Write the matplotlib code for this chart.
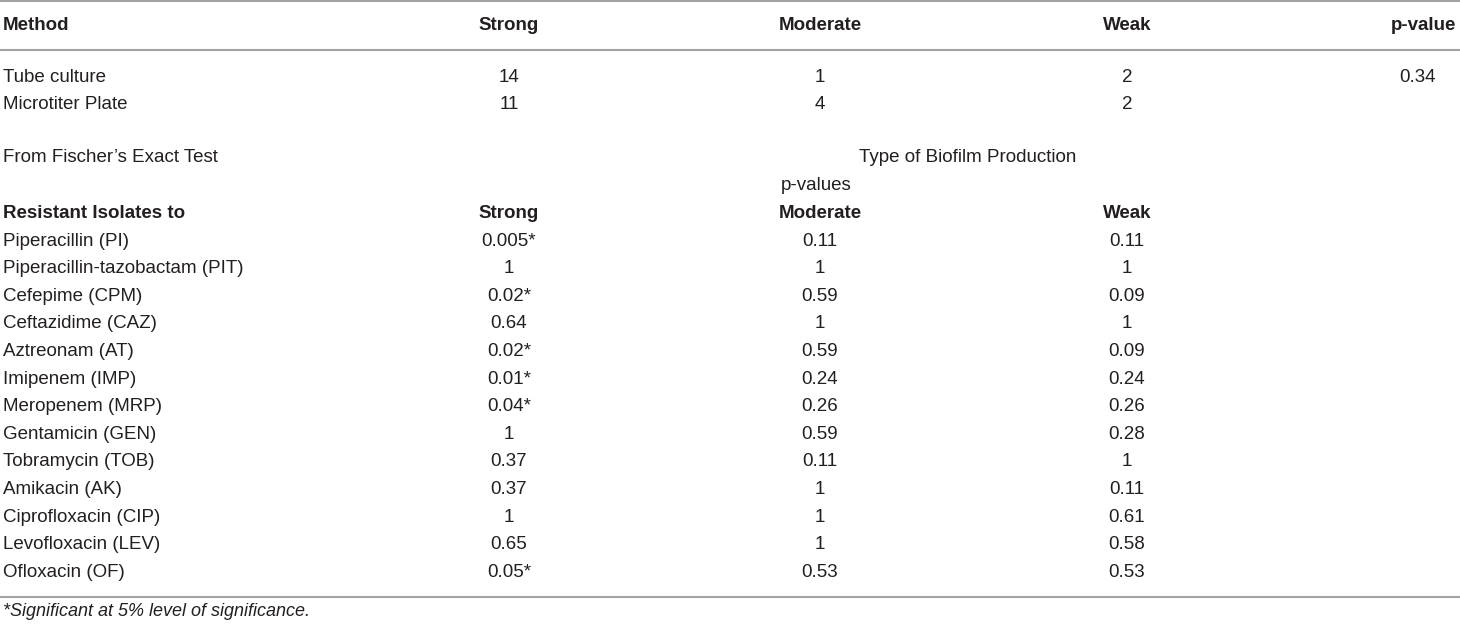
import matplotlib.pyplot as plt

plt.rcParams["font.family"] = ["Liberation Sans Narrow", "Liberation Sans", "DejaVu Sans"]

# Data
top_header = ["Method", "Strong", "Moderate", "Weak", "p-value"]
methods = ["Tube culture", "Microtiter Plate"]
strong_counts = ["14", "11"]
moderate_counts = ["1", "4"]
weak_counts = ["2", "2"]
method_pvalues = ["0.34", ""]

bottom_header = ["Resistant Isolates to", "Strong", "Moderate", "Weak"]
antibiotics = [
    "Piperacillin (PI)",
    "Piperacillin-tazobactam (PIT)",
    "Cefepime (CPM)",
    "Ceftazidime (CAZ)",
    "Aztreonam (AT)",
    "Imipenem (IMP)",
    "Meropenem (MRP)",
    "Gentamicin (GEN)",
    "Tobramycin (TOB)",
    "Amikacin (AK)",
    "Ciprofloxacin (CIP)",
    "Levofloxacin (LEV)",
    "Ofloxacin (OF)",
]
p_strong = ["0.005*", "1", "0.02*", "0.64", "0.02*", "0.01*", "0.04*", "1", "0.37", "0.37", "1", "0.65", "0.05*"]
p_moderate = ["0.11", "1", "0.59", "1", "0.59", "0.24", "0.26", "0.59", "0.11", "1", "1", "1", "0.53"]
p_weak = ["0.11", "1", "0.09", "1", "0.09", "0.24", "0.26", "0.28", "1", "0.11", "0.61", "0.58", "0.53"]

footnote = "*Significant at 5% level of significance."

ink = "#231f20"
rule = "#a3a3a3"
fs = 13.5

fig = plt.figure(figsize=(14.6, 6.25), dpi=100)
ax = fig.add_axes([0, 0, 1, 1])
ax.set_xlim(0, 1460)
ax.set_ylim(625, 0)
ax.axis("off")

cols = [509, 820, 1127]

# top table
ax.axhline(1, color=rule, lw=1.5)
ax.axhline(50, color=rule, lw=1.5)
ax.text(3, 26, top_header[0], fontsize=fs, weight="bold", color=ink, va="center")
for x, h in zip(cols, top_header[1:4]):
    ax.text(x, 26, h, fontsize=fs, weight="bold", color=ink, va="center", ha="center")
ax.text(1456, 26, top_header[4], fontsize=fs, weight="bold", color=ink, va="center", ha="right")

for i, m in enumerate(methods):
    y = 77 + i * 27.5
    ax.text(3, y, m, fontsize=fs, color=ink, va="center")
    for x, v in zip(cols, [strong_counts[i], moderate_counts[i], weak_counts[i]]):
        ax.text(x, y, v, fontsize=fs, color=ink, va="center", ha="center")
    ax.text(1418, y, method_pvalues[i], fontsize=fs, color=ink, va="center", ha="center")

ax.text(3, 158, "From Fischer\u2019s Exact Test", fontsize=fs, color=ink, va="center")
ax.text(968, 158, "Type of Biofilm Production", fontsize=fs, color=ink, va="center", ha="center")
ax.text(816, 186, "p-values", fontsize=fs, color=ink, va="center", ha="center")

# bottom table
ax.text(3, 213, bottom_header[0], fontsize=fs, weight="bold", color=ink, va="center")
for x, h in zip(cols, bottom_header[1:]):
    ax.text(x, 213, h, fontsize=fs, weight="bold", color=ink, va="center", ha="center")

for i, name in enumerate(antibiotics):
    y = 241 + i * 27.6
    ax.text(3, y, name, fontsize=fs, color=ink, va="center")
    for x, v in zip(cols, [p_strong[i], p_moderate[i], p_weak[i]]):
        ax.text(x, y, v, fontsize=fs, color=ink, va="center", ha="center")

ax.axhline(597, color=rule, lw=1.5)
ax.text(3, 612, footnote, fontsize=fs - 0.5, style="italic", color=ink, va="center")

fig.savefig("out.png", dpi=100)
